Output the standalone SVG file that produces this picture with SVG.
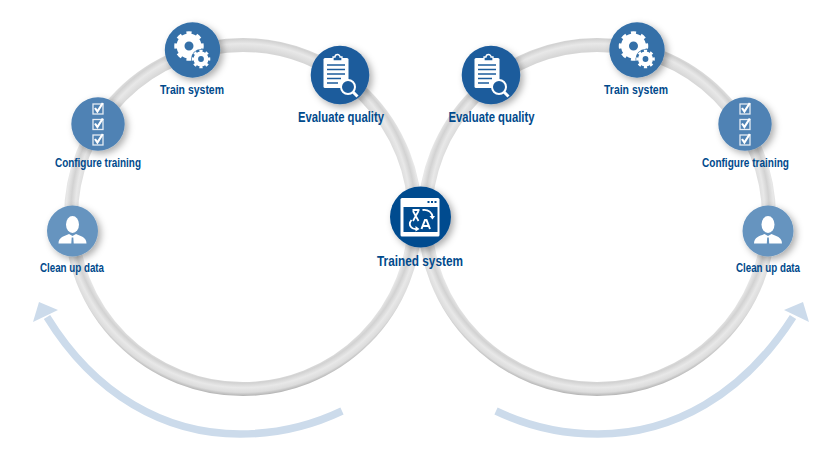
<svg xmlns="http://www.w3.org/2000/svg" xmlns:xlink="http://www.w3.org/1999/xlink" width="840" height="460" viewBox="0 0 840 460">
<style>
.lbl{font-family:"Liberation Sans Narrow","Liberation Sans",Arial,sans-serif;font-weight:700;fill:#004a8c;text-anchor:middle}
.s{font-size:12.5px}.m{font-size:14px}.l{font-size:15px}
.ring{fill:none;stroke-width:14}
.arc{fill:none;stroke:#ccdbeb;stroke-width:7.500}
.head{fill:#ccdbeb}
.disc{filter:url(#sh)}
.w{fill:#fff}.wl{fill:none;stroke:#fff}
</style>
<defs>
<filter id="sh" x="-30%" y="-30%" width="170%" height="170%"><feDropShadow dx="3" dy="3" stdDeviation="3.500" flood-color="#000" flood-opacity=".32"/></filter>
<radialGradient id="gl" gradientUnits="userSpaceOnUse" cx="243" cy="211" r="186"><stop offset=".86" stop-color="#d6d6d6"/><stop offset=".9" stop-color="#e8e8e8"/><stop offset=".925" stop-color="#d2d2d2"/><stop offset=".95" stop-color="#e8e8e8"/><stop offset=".975" stop-color="#dcdcdc"/><stop offset="1" stop-color="#a6a6a6"/></radialGradient>
<radialGradient id="gr" gradientUnits="userSpaceOnUse" cx="597" cy="211" r="186"><stop offset=".86" stop-color="#d6d6d6"/><stop offset=".9" stop-color="#e8e8e8"/><stop offset=".925" stop-color="#d2d2d2"/><stop offset=".95" stop-color="#e8e8e8"/><stop offset=".975" stop-color="#dcdcdc"/><stop offset="1" stop-color="#a6a6a6"/></radialGradient>
<g id="i-gears">
<circle class="wl" r="8.500" stroke-width="8"/>
<circle class="wl" r="13" stroke-width="3.500" pathLength="16" stroke-dasharray="1 1" stroke-dashoffset=".5"/>
<circle cx="12" cy="13" r="10" fill="#3470a8"/>
<circle class="wl" cx="12" cy="13" r="5.200" stroke-width="4.600"/>
<circle class="wl" cx="12" cy="13" r="8" stroke-width="2.600" pathLength="16" stroke-dasharray="1 1" stroke-dashoffset=".5"/>
</g>
<g id="i-box"><rect x="-5" y="-4.500" width="10" height="10" fill="none" stroke="#fff" stroke-opacity=".85" stroke-width="1.300"/><path d="M-3-.5 L-.6 3 L4.800-5.500" class="wl" stroke-width="2.200"/></g>
<g id="i-check"><use xlink:href="#i-box" y="-15.500"/><use xlink:href="#i-box"/><use xlink:href="#i-box" y="15.500"/></g>
<g id="i-person"><ellipse cy="-6.500" rx="6.500" ry="8.500" class="w"/><path class="w" d="M-14 12.500 C-14 6-8 5-3.500 3 L0 5 L3.500 3 C8 5 14 6 14 12.500 H1.200 L.8 6.500 H-.8 L-1.200 12.500 Z"/></g>
<g id="i-clip">
<rect x="-16.500" y="-17" width="25" height="30" rx="1.500" class="w"/>
<path d="M-7-18 h2 a2.500 2.500 0 0 1 5 0 h2 v4 h-9 z" fill="#1c5c9c" stroke="#fff" stroke-width="1.300"/>
<path d="M-13-10 H5 M-13-5.500 H5 M-13-1 H5 M-13 3.500 H1 M-13 8 H-2" stroke="#1c5c9c" stroke-width="1.700" fill="none"/>
<circle cx="8" cy="12" r="7" fill="#1c5c9c" stroke="#fff" stroke-width="2"/>
<path d="M13 17 L17.500 21.500" class="wl" stroke-width="3"/>
</g>
<g id="i-trained">
<rect x="-20" y="-19" width="39" height="38.500" rx="1.500" class="w"/>
<rect x="-17" y="-10" width="34" height="25" fill="#004b8f"/>
<path d="M7-15 h2 M10.500-15 h2 M14-15 h2" stroke="#004b8f" stroke-width="2" fill="none"/>
<path d="M-8-7 H-1 M-7.500 4 L-2-6 M-2 4 L-7.500-6" class="wl" stroke-width="1.800"/>
<path d="M2-7 C8-8 12-4 12 0 M-9 3 C-13 8-9 13-3 12" class="wl" stroke-width="1.800"/>
<path d="M9-1 L12 2.500 L14.500-1 Z M-5 9 L-1 12 L-5 14.500 Z" class="w"/>
<path d="M1 12 L4.500 3 H6 L9.500 12 M2.500 9 H8" class="wl" stroke-width="2"/>
</g>
</defs>
<rect width="840" height="460" fill="#fff"/>
<g id="connectors">
<circle class="ring" cx="597" cy="217" r="172" stroke="url(#gr)"/>
<circle class="ring" cx="243" cy="217" r="172" stroke="url(#gl)"/>
<path class="arc" d="M342 411 A236 236 0 0 1 240 434 C165 434 95 395 47 317"/>
<path class="head" d="M39 302 L58 310 L33 322 Z"/>
<path class="arc" d="M496 411 A236 236 0 0 0 598 434 C673 434 743 395 793 317"/>
<path class="head" d="M803 302 L784 310 L809 322 Z"/>
</g>
<g id="clean-left"><circle class="disc" cx="72.500" cy="231" r="25.500" fill="#6694bf"/><use xlink:href="#i-person" x="72.500" y="231"/><text class="lbl s" x="72" y="272" textLength="64" lengthAdjust="spacingAndGlyphs">Clean up data</text></g>
<g id="configure-left"><circle class="disc" cx="98" cy="124" r="26.700" fill="#4f82b4"/><use xlink:href="#i-check" x="98" y="124"/><text class="lbl s" x="98" y="167" textLength="86" lengthAdjust="spacingAndGlyphs">Configure training</text></g>
<g id="train-left"><circle class="disc" cx="192.500" cy="50" r="27.700" fill="#3470a8"/><use xlink:href="#i-gears" x="189" y="46"/><text class="lbl s" x="192" y="94" textLength="64" lengthAdjust="spacingAndGlyphs">Train system</text></g>
<g id="evaluate-left"><circle class="disc" cx="340" cy="75" r="29.300" fill="#1c5c9c"/><use xlink:href="#i-clip" x="340" y="75"/><text class="lbl m" x="341" y="122" textLength="86" lengthAdjust="spacingAndGlyphs">Evaluate quality</text></g>
<g id="evaluate-right"><circle class="disc" cx="491" cy="75" r="29.300" fill="#1c5c9c"/><use xlink:href="#i-clip" x="491" y="75"/><text class="lbl m" x="491.500" y="122" textLength="86" lengthAdjust="spacingAndGlyphs">Evaluate quality</text></g>
<g id="train-right"><circle class="disc" cx="637" cy="50" r="27.700" fill="#3470a8"/><use xlink:href="#i-gears" x="633.500" y="46"/><text class="lbl s" x="636" y="94" textLength="64" lengthAdjust="spacingAndGlyphs">Train system</text></g>
<g id="configure-right"><circle class="disc" cx="745" cy="124" r="26.700" fill="#4f82b4"/><use xlink:href="#i-check" x="745" y="124"/><text class="lbl s" x="745.500" y="167" textLength="87" lengthAdjust="spacingAndGlyphs">Configure training</text></g>
<g id="clean-right"><circle class="disc" cx="768" cy="231" r="25.500" fill="#6694bf"/><use xlink:href="#i-person" x="768" y="231"/><text class="lbl s" x="768" y="272" textLength="64" lengthAdjust="spacingAndGlyphs">Clean up data</text></g>
<g id="trained"><circle class="disc" cx="420.500" cy="217" r="30.500" fill="#004b8f"/><use xlink:href="#i-trained" x="420.500" y="217"/><text class="lbl l" x="420" y="266" textLength="86" lengthAdjust="spacingAndGlyphs">Trained system</text></g>
</svg>
